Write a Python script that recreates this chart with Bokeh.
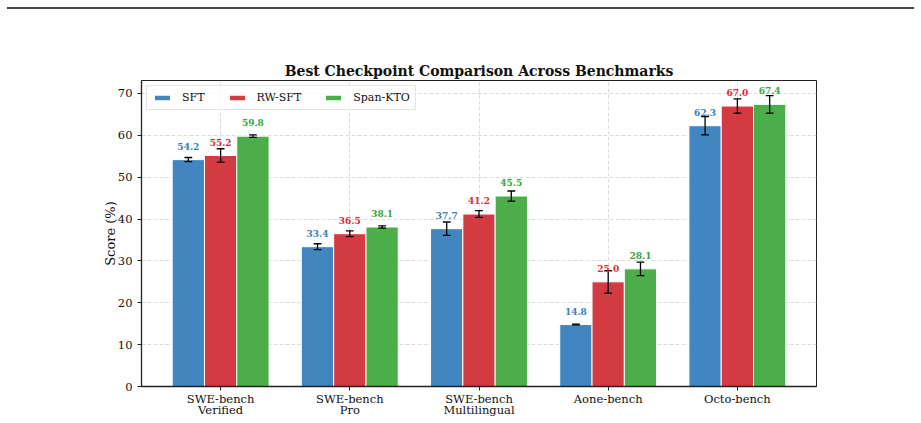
from bokeh.plotting import figure
from bokeh.models import (ColumnDataSource, Range1d, FixedTicker, Legend, LegendItem, Div)
from bokeh.layouts import column
from bokeh.embed import file_html
from bokeh.resources import INLINE

# ---- data ----
categories = ["SWE-bench\nVerified", "SWE-bench\nPro", "SWE-bench\nMultilingual",
              "Aone-bench", "Octo-bench"]
series_names = ["SFT", "RW-SFT", "Span-KTO"]
sft = [54.2, 33.4, 37.7, 14.8, 62.3]
rw_sft = [55.2, 36.5, 41.2, 25.0, 67.0]
span_kto = [59.8, 38.1, 45.5, 28.1, 67.4]
sft_err = [0.5, 0.7, 1.6, 0.1, 2.2]
rw_sft_err = [1.6, 0.7, 0.8, 2.7, 1.7]
span_kto_err = [0.3, 0.25, 1.2, 1.6, 2.1]
y_ticks = [0, 10, 20, 30, 40, 50, 60, 70]

bar_colors = ["#4186c1", "#d43a42", "#4cae4b"]
text_colors = ["#3a7fbf", "#d62f35", "#3aa43a"]
FONT = "DejaVu Serif"

values = [sft, rw_sft, span_kto]
errors = [sft_err, rw_sft_err, span_kto_err]
bar_w = 0.25
cap_w = 0.06
offsets = [-bar_w, 0.0, bar_w]

p = figure(width=921, height=414, output_backend="svg", toolbar_location=None,
           x_range=Range1d(-0.6125, 4.6125), y_range=Range1d(0, 73.1),
           min_border_left=141, min_border_right=105, min_border_top=71,
           min_border_bottom=37)

items = []
sources = []
for i, name in enumerate(series_names):
    xs = [k + offsets[i] for k in range(len(categories))]
    src = ColumnDataSource(dict(
        x=xs, top=values[i],
        x0=[x - cap_w / 2 for x in xs], x1=[x + cap_w / 2 for x in xs],
        upper=[v + e for v, e in zip(values[i], errors[i])],
        lower=[v - e for v, e in zip(values[i], errors[i])],
        ty=[v + 3.2 for v in values[i]],
        label=[f"{v:.1f}" for v in values[i]],
    ))
    sources.append(src)
    r = p.vbar(x="x", top="top", bottom=0, width=bar_w, source=src,
               fill_color=bar_colors[i], line_color="white", line_width=1)
    items.append(LegendItem(label=name, renderers=[r]))

for i, src in enumerate(sources):
    p.segment(x0="x", x1="x", y0="lower", y1="upper", source=src,
              line_color="black", line_width=1.3)
    p.segment(x0="x0", x1="x1", y0="upper", y1="upper", source=src,
              line_color="black", line_width=1.3)
    p.segment(x0="x0", x1="x1", y0="lower", y1="lower", source=src,
              line_color="black", line_width=1.3)
    p.text(x="x", y="ty", text="label", source=src, text_align="center",
           text_baseline="middle", text_font={"value": FONT},
           text_font_size="9px", text_font_style="bold", text_color=text_colors[i])

legend = Legend(items=items, location="top_left", orientation="horizontal",
                label_text_font=FONT, label_text_font_size="11px",
                label_text_color="#111111",
                glyph_width=20, glyph_height=7, label_height=10, label_standoff=10,
                spacing=22, padding=5, margin=5,
                border_line_color="#cccccc", border_line_width=1,
                background_fill_alpha=0.8)
p.add_layout(legend)

p.title.text = "Best Checkpoint Comparison Across Benchmarks"
p.title.align = "center"
p.title.text_font = FONT
p.title.text_font_size = "14px"
p.title.text_font_style = "bold"
p.title.text_color = "#111111"
p.title.standoff = 3

p.xaxis.ticker = FixedTicker(ticks=list(range(len(categories))))
p.xaxis.major_label_overrides = {float(k): c for k, c in enumerate(categories)}
p.xaxis.major_label_text_line_height = 0.85
p.xaxis.major_label_standoff = 1
p.yaxis.ticker = FixedTicker(ticks=y_ticks)
p.yaxis.axis_label = "Score (%)"
p.yaxis.axis_label_text_font = FONT
p.yaxis.axis_label_text_font_size = "13px"
p.yaxis.axis_label_text_font_style = "normal"
p.yaxis.axis_label_text_color = "#111111"
p.yaxis.axis_label_standoff = -3

for ax in (p.xaxis, p.yaxis):
    ax.major_label_text_font = FONT
    ax.major_label_text_font_size = "11.5px"
    ax.major_label_text_color = "#111111"
    ax.axis_line_color = "#222222"
    ax.axis_line_width = 1.3
    ax.major_tick_line_color = "#222222"
    ax.major_tick_in = 0
    ax.major_tick_out = 4
    ax.minor_tick_line_color = None

p.outline_line_color = "#222222"
p.outline_line_width = 1
p.xgrid.grid_line_color = "#dddddd"
p.ygrid.grid_line_color = "#dddddd"
p.xgrid.grid_line_dash = "4 2"
p.ygrid.grid_line_dash = "4 2"
p.background_fill_color = "white"
p.border_fill_color = "white"

rule = Div(text="", width=907, height=2, margin=(7, 0, 0, 7),
           styles={"background-color": "#444444"})

layout = column(rule, p, spacing=0)
open("out.html", "w").write(file_html(layout, INLINE))
